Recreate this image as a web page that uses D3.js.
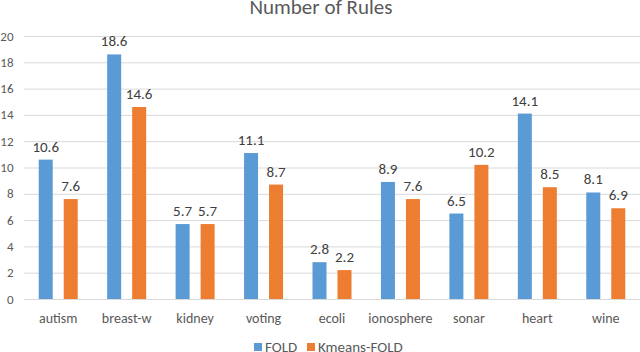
<!DOCTYPE html>
<html><head><meta charset="utf-8">
<script src="https://cdn.jsdelivr.net/npm/d3@7"></script>
<style>body{margin:0;background:#fff}svg{display:block}</style>
</head><body>
<svg id="c" width="640" height="352"></svg>
<script>
const categories = ["autism","breast-w","kidney","voting","ecoli","ionosphere","sonar","heart","wine"];
const fold = [10.6,18.6,5.7,11.1,2.8,8.9,6.5,14.1,8.1];
const kmeansFold = [7.6,14.6,5.7,8.7,2.2,7.6,10.2,8.5,6.9];
const seriesNames = ["FOLD","Kmeans-FOLD"];
const yTicks = [0,2,4,6,8,10,12,14,16,18,20];

const colors = ["#5B9BD5","#ED7D31"];
const font = "Carlito, 'Liberation Sans', 'Open Sans', sans-serif";
const svg = d3.select("#c");
const L = 24, R = 640, T = 36, B = 299;
const x = d3.scaleBand().domain(categories).range([L, R]);
const y = d3.scaleLinear().domain([0,20]).range([B, T]);

svg.append("text").attr("x",321).attr("y",14).attr("text-anchor","middle")
  .attr("font-family",font).attr("font-size",21).attr("fill","#595959").text("Number of Rules");

svg.append("g").selectAll("line").data(yTicks).join("line")
  .attr("x1",L).attr("x2",R).attr("y1",d=>y(d)+0.5).attr("y2",d=>y(d)+0.5)
  .attr("stroke","#D9D9D9").attr("stroke-width",1);

svg.append("g").selectAll("text").data(yTicks).join("text")
  .attr("x",13.5).attr("y",d=>y(d)).attr("dy","0.35em").attr("text-anchor","end")
  .attr("font-family",font).attr("font-size",13).attr("fill","#595959").text(d=>d);

const data = categories.map((c,i)=>({c, vals:[fold[i], kmeansFold[i]]}));
const bw = 14, off = 12.5;
const g = svg.append("g");
data.forEach(d=>{
  const cx = x(d.c) + x.bandwidth()/2;
  d.vals.forEach((v,j)=>{
    const bx = cx + (j===0?-off:off) - bw/2;
    g.append("rect").attr("x",bx).attr("y",y(v)).attr("width",bw).attr("height",y(0)-y(v))
      .attr("fill",colors[j]);
    g.append("text").attr("x",bx+bw/2).attr("y",y(v)-8).attr("text-anchor","middle")
      .attr("font-family",font).attr("font-size",15).attr("fill","#404040").text(v.toFixed(1));
  });
  g.append("text").attr("x",cx).attr("y",318).attr("dy","0.35em").attr("text-anchor","middle")
    .attr("font-family",font).attr("font-size",14).attr("fill","#595959").text(d.c);
});

const leg = svg.append("g");
const lx = [254, 307];
seriesNames.forEach((s,j)=>{
  leg.append("rect").attr("x",lx[j]).attr("y",343).attr("width",8).attr("height",8).attr("fill",colors[j]);
  leg.append("text").attr("x",lx[j]+11).attr("y",347).attr("dy","0.35em")
    .attr("font-family",font).attr("font-size",15).attr("fill","#595959").text(s);
});
</script>
</body></html>
